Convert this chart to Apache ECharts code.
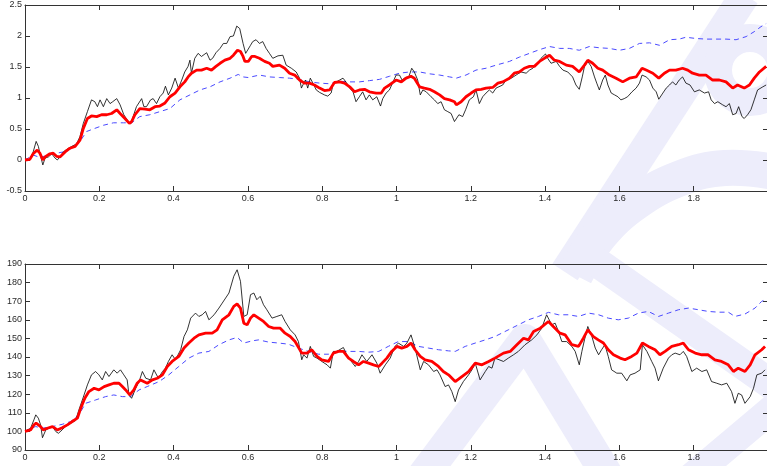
<!DOCTYPE html>
<html>
<head>
<meta charset="utf-8">
<script src="https://cdn.jsdelivr.net/npm/echarts@6/dist/echarts.min.js"></script>
<style>
  html, body { margin: 0; padding: 0; background: #fff; }
  #chart { width: 767px; height: 466px; }
</style>
</head>
<body>
<div id="chart"></div>
<script>
// x ticks shared by both panels
const xTicks = [0, 0.2, 0.4, 0.6, 0.8, 1, 1.2, 1.4, 1.6, 1.8, 2]
const topTicks = [-0.5, 0, 0.5, 1, 1.5, 2, 2.5]
const botTicks = [90, 100, 110, 120, 130, 140, 150, 160, 170, 180, 190]

// upper panel: [t, value]
const topBlack = [
  [0,0],[0.013,0.01],[0.022,0.13],[0.030,0.30],[0.036,0.22],[0.040,0.11],[0.048,-0.08],[0.054,0.03],
  [0.063,0.05],[0.072,0.10],[0.081,0.03],[0.087,0.00],[0.094,0.05],[0.103,0.13],[0.112,0.17],[0.126,0.22],
  [0.139,0.26],[0.148,0.38],[0.157,0.59],[0.168,0.78],[0.179,0.97],[0.188,0.94],[0.195,0.86],[0.202,0.97],
  [0.211,0.86],[0.220,0.99],[0.229,0.91],[0.236,0.94],[0.247,0.99],[0.256,0.89],[0.266,0.73],[0.278,0.62],
  [0.285,0.59],[0.291,0.70],[0.300,0.86],[0.314,0.99],[0.320,0.86],[0.327,0.86],[0.338,0.97],[0.345,0.99],
  [0.354,0.91],[0.363,1.02],[0.372,1.08],[0.378,1.19],[0.386,1.05],[0.395,1.16],[0.404,1.32],[0.413,1.16],
  [0.422,1.29],[0.430,1.42],[0.439,1.51],[0.444,1.61],[0.448,1.40],[0.457,1.64],[0.466,1.72],[0.475,1.67],
  [0.482,1.70],[0.489,1.73],[0.498,1.61],[0.505,1.64],[0.514,1.73],[0.525,1.80],[0.534,1.88],[0.543,1.88],
  [0.552,1.99],[0.561,2.00],[0.570,2.16],[0.578,2.12],[0.587,1.88],[0.594,1.72],[0.598,1.75],[0.607,1.85],
  [0.613,1.91],[0.622,1.94],[0.631,1.88],[0.640,1.91],[0.649,1.80],[0.658,1.72],[0.667,1.64],[0.681,1.68],
  [0.694,1.69],[0.703,1.53],[0.717,1.48],[0.730,1.42],[0.739,1.32],[0.744,1.16],[0.748,1.21],[0.755,1.29],
  [0.761,1.16],[0.768,1.32],[0.775,1.24],[0.784,1.13],[0.793,1.09],[0.806,1.05],[0.815,1.03],[0.824,1.08],
  [0.829,1.21],[0.838,1.26],[0.847,1.29],[0.856,1.32],[0.865,1.25],[0.874,1.16],[0.883,1.10],[0.891,0.94],
  [0.900,1.02],[0.909,1.10],[0.918,0.97],[0.927,1.05],[0.936,0.97],[0.947,1.02],[0.957,0.87],[0.963,0.99],
  [0.972,1.08],[0.981,1.13],[0.990,1.25],[0.999,1.37],[1.008,1.37],[1.015,1.29],[1.024,1.33],[1.033,1.34],
  [1.041,1.48],[1.048,1.42],[1.057,1.29],[1.064,1.05],[1.071,1.13],[1.080,1.10],[1.093,1.02],[1.102,0.97],
  [1.111,0.91],[1.120,0.94],[1.129,0.81],[1.138,0.78],[1.147,0.75],[1.156,0.62],[1.161,0.60],[1.168,0.73],
  [1.178,0.70],[1.186,0.81],[1.196,0.97],[1.207,1.02],[1.214,1.13],[1.223,0.91],[1.232,1.02],[1.241,1.08],
  [1.250,1.13],[1.259,1.08],[1.268,1.16],[1.286,1.21],[1.295,1.29],[1.309,1.32],[1.322,1.37],[1.335,1.42],
  [1.349,1.40],[1.358,1.45],[1.367,1.48],[1.380,1.56],[1.389,1.64],[1.401,1.71],[1.407,1.64],[1.416,1.56],
  [1.430,1.59],[1.439,1.51],[1.448,1.45],[1.461,1.42],[1.474,1.34],[1.483,1.21],[1.492,1.14],[1.500,1.34],
  [1.506,1.51],[1.515,1.59],[1.524,1.51],[1.533,1.34],[1.539,1.24],[1.546,1.13],[1.555,1.29],[1.562,1.37],
  [1.569,1.21],[1.578,1.08],[1.587,1.05],[1.596,1.02],[1.604,0.97],[1.613,0.99],[1.622,1.02],[1.634,1.10],
  [1.645,1.16],[1.654,1.24],[1.661,1.37],[1.672,1.34],[1.681,1.29],[1.690,1.16],[1.699,1.10],[1.706,0.98],
  [1.717,1.08],[1.726,1.16],[1.735,1.21],[1.743,1.26],[1.752,1.21],[1.761,1.29],[1.770,1.34],[1.779,1.24],
  [1.790,1.21],[1.802,1.10],[1.815,1.13],[1.829,1.08],[1.840,1.10],[1.847,0.97],[1.856,0.91],[1.865,0.94],
  [1.878,0.89],[1.887,0.86],[1.896,0.91],[1.905,0.73],[1.914,0.75],[1.921,0.86],[1.930,0.70],[1.936,0.67],
  [1.945,0.73],[1.954,0.81],[1.963,0.97],[1.972,1.13],[1.986,1.18],[1.995,1.21]
]
const topRed = [
  [0,0],[0.013,0.01],[0.022,0.10],[0.033,0.16],[0.040,0.11],[0.048,0.00],[0.054,0.05],[0.067,0.10],
  [0.076,0.11],[0.085,0.06],[0.094,0.05],[0.108,0.13],[0.121,0.19],[0.135,0.22],[0.148,0.32],[0.157,0.51],
  [0.168,0.67],[0.179,0.71],[0.193,0.70],[0.206,0.73],[0.220,0.73],[0.233,0.75],[0.247,0.81],[0.256,0.75],
  [0.269,0.67],[0.281,0.59],[0.287,0.62],[0.296,0.73],[0.309,0.83],[0.323,0.82],[0.336,0.81],[0.350,0.86],
  [0.363,0.87],[0.377,0.92],[0.390,1.02],[0.404,1.08],[0.417,1.18],[0.430,1.26],[0.439,1.34],[0.448,1.40],
  [0.462,1.45],[0.475,1.45],[0.489,1.48],[0.502,1.45],[0.514,1.51],[0.525,1.56],[0.538,1.61],[0.552,1.64],
  [0.561,1.69],[0.572,1.77],[0.580,1.75],[0.587,1.67],[0.592,1.59],[0.601,1.59],[0.610,1.67],[0.619,1.67],
  [0.631,1.64],[0.645,1.59],[0.658,1.56],[0.667,1.51],[0.685,1.53],[0.699,1.48],[0.712,1.40],[0.726,1.37],
  [0.739,1.29],[0.752,1.24],[0.766,1.24],[0.779,1.21],[0.793,1.16],[0.806,1.12],[0.820,1.13],[0.833,1.25],
  [0.847,1.26],[0.860,1.24],[0.874,1.18],[0.887,1.10],[0.900,1.13],[0.914,1.14],[0.927,1.10],[0.945,1.08],
  [0.959,1.08],[0.968,1.16],[0.981,1.21],[0.999,1.29],[1.013,1.26],[1.026,1.32],[1.039,1.35],[1.048,1.32],
  [1.062,1.18],[1.075,1.16],[1.089,1.14],[1.102,1.10],[1.116,1.05],[1.129,0.99],[1.143,0.97],[1.156,0.94],
  [1.161,0.89],[1.174,0.94],[1.187,1.02],[1.201,1.08],[1.214,1.13],[1.228,1.14],[1.241,1.16],[1.259,1.17],
  [1.273,1.24],[1.286,1.26],[1.304,1.32],[1.317,1.40],[1.331,1.42],[1.344,1.48],[1.358,1.51],[1.371,1.51],
  [1.385,1.59],[1.398,1.64],[1.412,1.69],[1.425,1.61],[1.439,1.59],[1.457,1.53],[1.474,1.51],[1.492,1.42],
  [1.506,1.53],[1.515,1.61],[1.528,1.56],[1.542,1.48],[1.555,1.45],[1.573,1.37],[1.591,1.32],[1.609,1.26],
  [1.627,1.32],[1.645,1.34],[1.661,1.48],[1.672,1.45],[1.690,1.40],[1.706,1.32],[1.721,1.40],[1.735,1.45],
  [1.752,1.45],[1.770,1.48],[1.784,1.45],[1.797,1.40],[1.815,1.37],[1.833,1.37],[1.851,1.29],[1.869,1.29],
  [1.887,1.26],[1.905,1.16],[1.918,1.21],[1.936,1.16],[1.950,1.21],[1.963,1.32],[1.977,1.42],[1.995,1.51]
]
const topBlue = [
  [0,0],[0.022,0.08],[0.036,0.05],[0.054,0.06],[0.076,0.10],[0.103,0.13],[0.126,0.19],[0.148,0.30],
  [0.166,0.46],[0.188,0.51],[0.211,0.56],[0.238,0.60],[0.265,0.60],[0.287,0.60],[0.309,0.70],[0.336,0.73],
  [0.363,0.78],[0.390,0.83],[0.417,0.97],[0.444,1.05],[0.471,1.13],[0.498,1.18],[0.525,1.26],[0.552,1.32],
  [0.574,1.38],[0.587,1.34],[0.601,1.33],[0.631,1.37],[0.658,1.34],[0.685,1.33],[0.712,1.32],[0.739,1.30],
  [0.766,1.26],[0.793,1.24],[0.820,1.23],[0.847,1.27],[0.874,1.26],[0.900,1.26],[0.927,1.28],[0.954,1.30],
  [0.981,1.35],[1.008,1.40],[1.035,1.42],[1.062,1.42],[1.089,1.39],[1.116,1.37],[1.143,1.34],[1.161,1.32],
  [1.187,1.37],[1.214,1.45],[1.241,1.48],[1.268,1.53],[1.304,1.59],[1.331,1.66],[1.358,1.72],[1.385,1.78],
  [1.412,1.83],[1.439,1.80],[1.465,1.80],[1.492,1.77],[1.519,1.83],[1.546,1.81],[1.573,1.80],[1.600,1.77],
  [1.627,1.80],[1.654,1.88],[1.681,1.89],[1.708,1.85],[1.735,1.94],[1.761,1.95],[1.779,1.98],[1.806,1.96],
  [1.833,1.95],[1.860,1.95],[1.887,1.95],[1.914,1.94],[1.941,1.99],[1.963,2.07],[1.981,2.15],[1.995,2.20]
]

// lower panel: [t, value]
const botBlack = [
  [0,100],[0.015,101.7],[0.024,106.2],[0.029,108.9],[0.036,107.1],[0.042,103.5],[0.047,96.6],[0.056,100.8],
  [0.065,101.7],[0.074,102.6],[0.083,99.9],[0.090,99.0],[0.100,100.8],[0.109,102.6],[0.123,104.4],[0.136,105.8],
  [0.145,111.5],[0.159,119.6],[0.168,125.0],[0.179,130.4],[0.190,132.2],[0.199,130.4],[0.208,127.7],[0.217,132.2],
  [0.226,129.5],[0.239,133.1],[0.248,131.3],[0.257,133.1],[0.266,130.4],[0.275,127.7],[0.280,119.6],[0.287,117.8],
  [0.298,123.2],[0.307,126.8],[0.316,132.2],[0.325,128.6],[0.338,127.7],[0.347,133.1],[0.359,128.6],[0.370,132.2],
  [0.378,134.0],[0.386,137.6],[0.396,141.2],[0.405,138.5],[0.419,143.9],[0.428,151.0],[0.437,154.6],[0.446,160.9],
  [0.459,163.6],[0.468,161.8],[0.477,162.7],[0.486,164.5],[0.495,160.0],[0.509,162.7],[0.522,166.3],[0.531,169.0],
  [0.540,171.7],[0.549,174.4],[0.562,183.4],[0.571,186.9],[0.580,180.7],[0.589,161.8],[0.598,162.7],[0.607,173.5],
  [0.616,174.4],[0.624,170.8],[0.633,172.6],[0.642,168.1],[0.651,165.4],[0.665,160.9],[0.678,161.8],[0.691,162.7],
  [0.700,159.1],[0.714,154.6],[0.727,151.9],[0.736,148.3],[0.745,138.5],[0.750,141.2],[0.759,139.4],[0.768,145.7],
  [0.777,140.3],[0.786,139.4],[0.799,137.6],[0.813,135.8],[0.822,134.0],[0.830,143.0],[0.839,143.0],[0.857,145.1],
  [0.866,141.2],[0.875,138.5],[0.889,134.9],[0.898,137.6],[0.907,141.2],[0.920,137.6],[0.934,141.2],[0.947,136.7],
  [0.956,131.3],[0.970,135.8],[0.983,139.4],[0.996,145.7],[1.005,147.5],[1.019,145.7],[1.028,147.5],[1.039,151.9],
  [1.050,144.8],[1.064,133.1],[1.073,137.6],[1.086,135.8],[1.100,132.2],[1.109,133.1],[1.117,130.4],[1.131,124.1],
  [1.140,125.0],[1.149,121.4],[1.158,116.0],[1.167,122.3],[1.180,126.8],[1.194,130.4],[1.203,133.1],[1.212,136.7],
  [1.225,127.7],[1.239,132.2],[1.248,134.9],[1.257,134.0],[1.265,139.4],[1.288,137.6],[1.301,139.4],[1.315,141.2],
  [1.328,143.0],[1.346,146.6],[1.364,149.2],[1.378,151.9],[1.391,155.5],[1.404,162.7],[1.409,163.6],[1.418,157.3],
  [1.427,158.2],[1.436,153.7],[1.445,148.3],[1.458,148.3],[1.472,145.7],[1.481,143.0],[1.492,135.8],[1.499,143.0],
  [1.506,149.2],[1.515,156.4],[1.526,151.0],[1.535,144.8],[1.544,141.2],[1.552,143.9],[1.561,146.6],[1.570,140.3],
  [1.579,133.1],[1.593,131.3],[1.606,131.3],[1.620,127.2],[1.629,130.4],[1.642,131.3],[1.656,133.1],[1.662,146.6],
  [1.674,143.0],[1.687,137.6],[1.696,134.0],[1.705,127.2],[1.718,134.0],[1.732,139.4],[1.741,141.2],[1.750,142.1],
  [1.763,141.2],[1.772,143.0],[1.781,140.3],[1.795,132.2],[1.808,134.0],[1.822,132.2],[1.835,133.1],[1.848,126.8],
  [1.862,125.9],[1.875,125.0],[1.889,125.9],[1.902,121.4],[1.911,115.1],[1.920,120.5],[1.929,119.6],[1.938,115.1],
  [1.952,118.7],[1.961,123.2],[1.970,130.4],[1.983,131.3],[1.992,133.1]
]
const botRed = [
  [0,100],[0.015,100.8],[0.024,103.5],[0.030,104.4],[0.042,102.6],[0.049,100.8],[0.060,101.7],[0.074,102.6],
  [0.087,100.8],[0.100,102.0],[0.114,103.5],[0.127,105.3],[0.141,107.1],[0.150,112.4],[0.161,117.8],[0.172,121.4],
  [0.186,123.2],[0.199,122.3],[0.213,124.1],[0.226,125.0],[0.239,125.9],[0.253,125.9],[0.262,124.1],[0.271,122.3],
  [0.282,119.6],[0.293,122.3],[0.302,125.9],[0.311,127.7],[0.329,125.9],[0.343,127.7],[0.356,128.6],[0.370,130.4],
  [0.383,134.9],[0.396,137.6],[0.414,140.3],[0.428,144.8],[0.441,147.5],[0.455,150.1],[0.468,151.9],[0.486,152.8],
  [0.504,152.8],[0.517,154.6],[0.531,160.0],[0.549,162.7],[0.562,167.2],[0.571,168.5],[0.580,166.3],[0.589,158.2],
  [0.598,157.3],[0.607,160.9],[0.616,162.7],[0.629,160.9],[0.642,159.1],[0.656,156.4],[0.669,155.5],[0.687,155.5],
  [0.700,152.8],[0.714,151.0],[0.727,148.3],[0.745,142.1],[0.759,142.1],[0.772,143.9],[0.786,140.3],[0.799,138.5],
  [0.817,137.6],[0.830,142.1],[0.844,143.0],[0.857,143.0],[0.871,139.4],[0.884,137.6],[0.898,135.8],[0.911,137.6],
  [0.925,136.7],[0.938,135.8],[0.952,134.9],[0.961,136.7],[0.974,139.4],[0.987,143.0],[1.001,145.7],[1.014,144.8],
  [1.028,145.7],[1.039,147.5],[1.050,143.9],[1.064,140.3],[1.077,138.5],[1.095,137.6],[1.113,134.9],[1.126,132.2],
  [1.140,130.4],[1.158,126.8],[1.176,129.5],[1.194,132.2],[1.212,136.7],[1.230,135.8],[1.248,137.6],[1.265,139.4],
  [1.288,142.1],[1.306,143.0],[1.324,146.6],[1.342,150.1],[1.355,149.2],[1.369,153.7],[1.387,155.5],[1.409,159.1],
  [1.422,156.4],[1.440,152.8],[1.454,151.9],[1.472,146.6],[1.490,145.7],[1.503,150.1],[1.515,154.6],[1.530,151.0],
  [1.543,149.2],[1.557,147.5],[1.570,143.9],[1.584,141.2],[1.602,139.4],[1.615,138.5],[1.633,140.3],[1.647,142.1],
  [1.662,147.5],[1.678,145.7],[1.696,143.9],[1.709,141.2],[1.723,143.0],[1.741,145.7],[1.759,146.6],[1.772,147.5],
  [1.786,143.9],[1.804,142.1],[1.822,141.2],[1.839,141.2],[1.857,138.5],[1.875,137.6],[1.893,135.8],[1.907,132.2],
  [1.920,134.0],[1.938,132.2],[1.952,135.8],[1.965,141.2],[1.983,143.9],[1.992,145.7]
]
const botBlue = [
  [0,100],[0.015,101.7],[0.029,102.6],[0.047,101.7],[0.074,102.6],[0.100,103.8],[0.123,105.3],[0.145,108.9],
  [0.163,115.1],[0.190,116.9],[0.217,118.7],[0.239,119.6],[0.262,118.7],[0.284,118.7],[0.307,122.3],[0.329,124.1],
  [0.361,126.8],[0.387,130.4],[0.414,134.9],[0.441,139.4],[0.468,142.1],[0.495,143.0],[0.522,146.6],[0.549,149.2],
  [0.571,150.5],[0.589,147.5],[0.612,148.7],[0.629,149.2],[0.656,148.0],[0.683,147.5],[0.709,146.9],[0.736,144.8],
  [0.763,143.0],[0.790,141.5],[0.817,141.5],[0.844,143.3],[0.871,143.0],[0.898,143.0],[0.925,142.6],[0.952,143.0],
  [0.978,145.7],[1.005,148.3],[1.032,148.3],[1.059,145.7],[1.086,144.8],[1.113,143.9],[1.140,143.3],[1.158,143.0],
  [1.185,145.7],[1.212,147.5],[1.239,149.2],[1.265,151.0],[1.301,154.6],[1.328,157.3],[1.355,160.0],[1.382,161.8],
  [1.409,164.0],[1.436,162.7],[1.463,162.7],[1.490,161.8],[1.517,163.6],[1.544,162.7],[1.570,160.9],[1.597,160.0],
  [1.624,160.9],[1.651,163.6],[1.678,164.5],[1.705,161.8],[1.732,163.6],[1.759,165.4],[1.786,166.3],[1.813,165.4],
  [1.839,164.5],[1.866,164.1],[1.893,164.1],[1.911,161.8],[1.938,163.1],[1.965,166.3],[1.983,169.9],[1.992,170.8]
]

const chart = echarts.init(document.getElementById('chart'))

const labelStyle = { color: '#2a2a2a', fontSize: 9, fontFamily: 'Liberation Sans, Arial, sans-serif' }
const boxLine = { show: true, onZero: false, lineStyle: { color: '#333', width: 1 } }
const tickIn = { show: true, inside: true, length: 5, lineStyle: { color: '#333' } }
const fmt = (v) => String(+v.toFixed(1))
// the last x label sits past the window edge in the original, so leave it out
const fmtX = (v) => (v >= 2 ? '' : fmt(v))

function xAx(grid, pos) {
  return {
    type: 'value', gridIndex: grid, position: pos,
    min: xTicks[0], max: xTicks[xTicks.length - 1], interval: 0.2,
    axisLine: boxLine, axisTick: tickIn, splitLine: { show: false },
    axisLabel: pos === 'bottom' ? { ...labelStyle, margin: 3, formatter: fmtX } : { show: false },
  }
}
function yAx(grid, pos, ticks) {
  return {
    type: 'value', gridIndex: grid, position: pos,
    min: ticks[0], max: ticks[ticks.length - 1], interval: ticks[1] - ticks[0],
    axisLine: boxLine, axisTick: tickIn, splitLine: { show: false },
    axisLabel: pos === 'left' ? { ...labelStyle, margin: 3, formatter: fmt } : { show: false },
  }
}

const wm = '#ededfb'
const wmStyle = (w) => ({ stroke: wm, lineWidth: w, fill: null, lineJoin: 'round' })
// faint watermark shapes behind the plots
const watermark = [
  { type: 'polyline', z: -10, shape: { points: [[420, 480], [525, 340], [610, 480]] }, style: wmStyle(32) },
  { type: 'line', z: -10, shape: { x1: 565, y1: 272, x2: 745, y2: -5 }, style: wmStyle(30) },
  { type: 'polyline', z: -10, shape: { smooth: 0.4, points: [[575, 275], [600, 235], [636, 202], [681, 178], [725, 168], [775, 172]] }, style: wmStyle(36) },
  { type: 'line', z: -10, shape: { x1: 588, y1: 256, x2: 785, y2: 394 }, style: wmStyle(30) },
  { type: 'line', z: -10, shape: { x1: 690, y1: 478, x2: 785, y2: 398 }, style: wmStyle(28) },
  { type: 'arc', z: -10, shape: { cx: 750, cy: 70, r: 32, startAngle: 0, endAngle: Math.PI * 2 }, style: wmStyle(28) },
]

function lines(data, xi, yi) {
  return [
    { type: 'line', xAxisIndex: xi, yAxisIndex: yi, data: data[0], showSymbol: false, z: 3,
      lineStyle: { color: '#000', width: 0.8 } },
    { type: 'line', xAxisIndex: xi, yAxisIndex: yi, data: data[1], showSymbol: false, z: 4,
      lineStyle: { color: '#ff0000', width: 2.8 } },
    { type: 'line', xAxisIndex: xi, yAxisIndex: yi, data: data[2], showSymbol: false, z: 2,
      lineStyle: { color: '#4a4aff', width: 1, type: [5, 4] } },
  ]
}

chart.setOption({
  backgroundColor: '#fff',
  animation: false,
  graphic: watermark,
  grid: [
    { left: 25, top: 5, width: 743, height: 186, outerBoundsMode: 'none' },
    { left: 25, top: 264, width: 743, height: 186, outerBoundsMode: 'none' },
  ],
  xAxis: [xAx(0, 'bottom'), xAx(0, 'top'), xAx(1, 'bottom'), xAx(1, 'top')],
  yAxis: [yAx(0, 'left', topTicks), yAx(0, 'right', topTicks), yAx(1, 'left', botTicks), yAx(1, 'right', botTicks)],
  series: [
    ...lines([topBlack, topRed, topBlue], 0, 0),
    ...lines([botBlack, botRed, botBlue], 2, 2),
  ],
})
</script>
</body>
</html>
